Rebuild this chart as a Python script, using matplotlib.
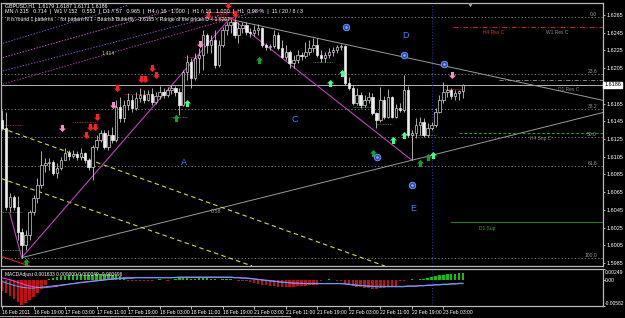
import numpy as np
import matplotlib
matplotlib.use("Agg")
import matplotlib.pyplot as plt
from matplotlib.path import Path
from matplotlib.patches import Rectangle

# GBPUSD H1, 118 bars, opens = previous close
first_open = 1.6146
closes = [1.6137, 1.6048, 1.6059, 1.6048, 1.6020, 1.6005, 1.6017, 1.6043, 1.6058, 1.6073,
          1.6096, 1.6098, 1.6099, 1.6087, 1.6092, 1.6101, 1.6109, 1.6106, 1.6108, 1.6105,
          1.6109, 1.6101, 1.6093, 1.6116, 1.6124, 1.6132, 1.6116, 1.6130, 1.6124, 1.6161,
          1.6149, 1.6163, 1.6169, 1.6160, 1.6171, 1.6175, 1.6169, 1.6176, 1.6167, 1.6174,
          1.6178, 1.6175, 1.6180, 1.6183, 1.6178, 1.6163, 1.6201, 1.6212, 1.6194, 1.6216,
          1.6220, 1.6242, 1.6231, 1.6237, 1.6209, 1.6231, 1.6248, 1.6254, 1.6257, 1.6242,
          1.6250, 1.6254, 1.6246, 1.6245, 1.6248, 1.6250, 1.6231, 1.6229, 1.6230, 1.6242,
          1.6228, 1.6218, 1.6223, 1.6211, 1.6214, 1.6220, 1.6219, 1.6223, 1.6228, 1.6231,
          1.6220, 1.6216, 1.6220, 1.6223, 1.6225, 1.6229, 1.6230, 1.6188, 1.6183, 1.6166,
          1.6175, 1.6163, 1.6169, 1.6172, 1.6154, 1.6146, 1.6169, 1.6150, 1.6172, 1.6150,
          1.6160, 1.6158, 1.6180, 1.6130, 1.6132, 1.6141, 1.6144, 1.6130, 1.6137, 1.6141,
          1.6155, 1.6169, 1.6178, 1.6180, 1.6174, 1.6177, 1.6179, 1.6186]
highs = [1.6158, 1.6155, 1.6064, 1.6062, 1.6061, 1.6024, 1.6022, 1.6045, 1.6062, 1.6081,
         1.6111, 1.6104, 1.6104, 1.6101, 1.6098, 1.6105, 1.6115, 1.6113, 1.6113, 1.6111,
         1.6115, 1.6110, 1.6104, 1.6118, 1.6130, 1.6135, 1.6135, 1.6135, 1.6139, 1.6169,
         1.6172, 1.6169, 1.6177, 1.6175, 1.6178, 1.6183, 1.6180, 1.6180, 1.6183, 1.6178,
         1.6185, 1.6183, 1.6184, 1.6186, 1.6185, 1.6183, 1.6203, 1.6220, 1.6216, 1.6222,
         1.6228, 1.6248, 1.6245, 1.6242, 1.6248, 1.6237, 1.6251, 1.6257, 1.6262, 1.6263,
         1.6257, 1.6257, 1.6257, 1.6250, 1.6254, 1.6255, 1.6251, 1.6233, 1.6232, 1.6248,
         1.6246, 1.6237, 1.6231, 1.6225, 1.6220, 1.6225, 1.6223, 1.6235, 1.6237, 1.6239,
         1.6239, 1.6225, 1.6223, 1.6228, 1.6229, 1.6231, 1.6232, 1.6231, 1.6195, 1.6186,
         1.6183, 1.6178, 1.6175, 1.6178, 1.6177, 1.6155, 1.6184, 1.6174, 1.6181, 1.6173,
         1.6164, 1.6166, 1.6197, 1.6185, 1.6135, 1.6149, 1.6150, 1.6149, 1.6143, 1.6144,
         1.6160, 1.6175, 1.6189, 1.6186, 1.6183, 1.6180, 1.6180, 1.6187]
lows = [1.6135, 1.6045, 1.6043, 1.6045, 1.6011, 1.5991, 1.6000, 1.6011, 1.6039, 1.6053,
        1.6070, 1.6088, 1.6090, 1.6084, 1.6081, 1.6090, 1.6101, 1.6101, 1.6104, 1.6101,
        1.6101, 1.6098, 1.6090, 1.6079, 1.6113, 1.6122, 1.6114, 1.6113, 1.6120, 1.6122,
        1.6144, 1.6144, 1.6158, 1.6155, 1.6158, 1.6167, 1.6166, 1.6168, 1.6163, 1.6164,
        1.6170, 1.6171, 1.6172, 1.6176, 1.6174, 1.6152, 1.6162, 1.6192, 1.6183, 1.6192,
        1.6199, 1.6203, 1.6222, 1.6222, 1.6205, 1.6206, 1.6229, 1.6242, 1.6245, 1.6239,
        1.6233, 1.6245, 1.6242, 1.6240, 1.6241, 1.6242, 1.6229, 1.6225, 1.6225, 1.6228,
        1.6225, 1.6216, 1.6214, 1.6205, 1.6205, 1.6211, 1.6214, 1.6216, 1.6220, 1.6223,
        1.6218, 1.6212, 1.6212, 1.6216, 1.6219, 1.6222, 1.6225, 1.6186, 1.6180, 1.6163,
        1.6163, 1.6160, 1.6161, 1.6166, 1.6152, 1.6137, 1.6144, 1.6148, 1.6149, 1.6149,
        1.6149, 1.6155, 1.6155, 1.6127, 1.6101, 1.6126, 1.6130, 1.6127, 1.6127, 1.6135,
        1.6139, 1.6154, 1.6166, 1.6172, 1.6170, 1.6169, 1.6169, 1.6171]

# MACD Adjust panel, units of 1e-4
macd_hist = [-25, -30, -36, -42, -50, -56, -52, -45, -38, -30, -20, -12,
             3, 5, 7, 9, 10, 11, 12, 13, 13, 12, 11, 12, 13, 14, 14, 13, 12, 11, 10, 8,
             -2, -3, -3, -2, -1, -2, -1,
             1, 2, 1, -1, 1, 3, 4, 5, 4, 3, 2, 4, 5, 4, 3, 2, 1, 2, 3, 2, 1, -1, -2, -3,
             -5, -7, -9, -10, -12, -13, -14, -15, -15, -16, -16, -15, -14, -14, -13, -12, -11, -10,
             -3, 1, 2, 1, -1, -2,
             -8, -11, -13, -15, -16, -17, -18, -19, -19, -18, -17, -16, -15, -13,
             -3, -1, 1, 2, 1, 2, 3, 4,
             8, 10, 11, 12, 13, 14, 14, 15, 15]
macd_signal = [5, 3, 1, -2, -5, -8, -11, -13, -15, -16, -17, -17,
               -16, -15, -14, -12, -11, -9, -8, -6, -5, -4, -3, -2, -1, 0, 1, 2, 3, 4, 5, 5,
               6, 6, 6, 6, 6, 6, 6,
               6, 6, 6, 6, 6, 6, 7, 7, 7, 7, 7, 7, 7, 7, 7, 7, 7, 7, 7, 7, 6, 6, 5, 5,
               4, 3, 2, 1, 0, -1, -2, -3, -4, -5, -6, -7, -7, -8, -8, -8, -8, -8,
               -8, -8, -8, -8, -8, -8,
               -8, -9, -10, -11, -12, -13, -13, -14, -14, -14, -14, -14, -14, -14,
               -14, -14, -13, -13, -13, -12, -12, -11,
               -11, -10, -10, -9, -9, -8, -8, -7, -7]
macd_main = [-3, -6, -9, -12, -14, -16, -17, -18, -18, -17, -16, -15,
             -14, -13, -12, -11, -10, -9, -8, -7, -6, -5, -4, -3, -2, -1, 0, 1, 2, 3, 3, 4,
             4, 4, 5, 5, 5, 5, 5,
             5, 5, 5, 5, 5, 6, 6, 6, 6, 6, 6, 6, 6, 6, 6, 6, 6, 6, 6, 6, 5, 5, 4, 4,
             3, 2, 1, 0, -1, -2, -3, -4, -5, -5, -6, -7, -7, -7, -8, -8, -8, -8,
             -8, -8, -8, -8, -8, -8,
             -9, -10, -11, -12, -12, -13, -14, -14, -15, -15, -15, -15, -15, -15,
             -15, -15, -14, -14, -14, -13, -13, -12,
             -12, -11, -11, -10, -10, -9, -9, -8, -8]
macd_max, macd_min = 0.00249, -0.00582

time_labels = ['16 Feb 2011', '16 Feb 19:00', '17 Feb 03:00', '17 Feb 11:00', '17 Feb 19:00',
               '18 Feb 03:00', '18 Feb 11:00', '18 Feb 19:00', '21 Feb 03:00', '21 Feb 11:00',
               '21 Feb 19:00', '22 Feb 03:00', '22 Feb 11:00', '22 Feb 19:00', '23 Feb 03:00']
price_ticks = [1.6265, 1.6245, 1.6225, 1.6205, 1.6165, 1.6145, 1.6125, 1.6105,
               1.6085, 1.6065, 1.6045, 1.6025, 1.6005, 1.5985]
bid = 1.6186

# fibo retracement, high -> low
fib_high, fib_low = 1.6263, 1.5991
fib_levels = [0.0, 23.6, 38.2, 50.0, 61.8, 100.0]

# signal arrows (bar, price)
red_down = [(21.3, 1.6130), (22.3, 1.6139), (23.6, 1.6139), (24.1, 1.6150), (29.2, 1.6183),
            (35.3, 1.6193), (36.3, 1.6193), (38.1, 1.6205), (39.1, 1.6197),
            (52.3, 1.6265), (57.4, 1.6276), (59.1, 1.6266)]
pink_down = [(15.2, 1.6137), (28.2, 1.6163), (50.3, 1.6232), (114.2, 1.6197)]
green_up = [(6.1, 1.5986), (44.2, 1.6149), (65.2, 1.6214), (94.2, 1.6109),
            (106.1, 1.6098), (108.1, 1.6105)]
mint_up = [(47.0, 1.6166), (83.2, 1.6188), (86.3, 1.6199), (99.2, 1.6124),
           (102.0, 1.6130), (109.4, 1.6107)]

wave_letters = [('A', 46.2, 1.6099), ('C', 74.4, 1.6147), ('D', 102.3, 1.6242), ('E', 104.3, 1.6047)]
wave_dots = [(87.3, 1.6251), (102.0, 1.6220), (112.2, 1.6210), (95.2, 1.6105), (104.1, 1.6073)]

pattern_bars = [2, 5, 58, 104]
pattern_prices = [1.6041, 1.5991, 1.6262, 1.6101]

red_marks = [((46, 50), 1.6218), ((31, 38), 1.6176), ((18, 24), 1.6144), ((112, 117), 1.6181),
             ((-0.2, 5), 1.6141)]
green_marks = [((43, 47), 1.6150), ((79, 84), 1.6212), ((89, 94), 1.6161), ((95, 99), 1.6142),
               ((104, 110), 1.6130), ((-0.2, 5), 1.6043), ((-0.2, 5), 1.6000)]

plt.rcParams['font.family'] = ['Liberation Sans', 'DejaVu Sans']
W, H = 625, 318
fig = plt.figure(figsize=(W / 100, H / 100), dpi=100, facecolor='black')
ax = fig.add_axes([1 / W, 1 - 266 / H, 602 / W, 263 / H], facecolor='black')
axm = fig.add_axes([1 / W, 1 - 306 / H, 602 / W, 37 / H], facecolor='black')

n = len(closes)
x = np.arange(n)
opens = [first_open] + closes[:-1]
o = np.array(opens)
c = np.array(closes)
hi = np.maximum(np.array(highs), np.maximum(o, c))
lo = np.minimum(np.array(lows), np.minimum(o, c))
xmin, xmax = -0.25, 152.5

# guide lines first
for lv in fib_levels:
    p = fib_high - (fib_high - fib_low) * lv / 100
    ax.axhline(p, color='#8c8c8c', lw=0.6, ls=(0, (1.5, 2.5)), zorder=1)
    ax.text(151, p, f'{lv:.1f}', color='#9a9a9a', fontsize=3.6, ha='right', va='bottom', zorder=6)
ax.axhline(bid, color='#b4b4b4', lw=0.7, zorder=1)


def ray(ax_, bars, prices, x_end, **kw):
    k = (prices[1] - prices[0]) / (bars[1] - bars[0])
    ax_.plot([bars[0], x_end], [prices[0], prices[0] + k * (x_end - bars[0])], **kw)


ray(ax, [59, 119], [1.6259, 1.6201], xmax, color='#9a9a9a', lw=0.7, zorder=2)
ray(ax, [5, 104], [1.5991, 1.6101], xmax, color='#9a9a9a', lw=0.7, zorder=2)
ray(ax, [-0.5, 8], [1.5993, 1.5980], 8, color='#e02020', lw=0.8, zorder=2)
ax.axline((0, 1.6137), (80, 1.6009), color='#d8d840', lw=0.8, ls=(0, (4, 3)), zorder=2)
ax.axline((0, 1.6080), (60, 1.5987), color='#d8d840', lw=0.8, ls=(0, (4, 3)), zorder=2)

fan = [([-0.5, 66], [1.6186, 1.6271], '#b040b0'),
       ([-0.5, 58], [1.6201, 1.6268], '#8050c8'),
       ([-0.5, 45], [1.6216, 1.6273], '#c060c0'),
       ([-0.5, 32], [1.6232, 1.6276], '#6060c0')]
for bb, pp, col in fan:
    ax.plot(bb, pp, color=col, lw=0.7, ls=(0, (1.5, 1.5)), zorder=2)
ax.text(26.9, 1.6222, '1.414', color='#a8e070', fontsize=3.8, ha='center', va='center', zorder=6)
ax.text(54.3, 1.6043, '0.58', color='#a0a0a0', fontsize=3.8, ha='center', va='center', zorder=6)

ax.plot(pattern_bars, pattern_prices, color='#c040c0', lw=0.8, zorder=3)

for (b0, b1), p in red_marks:
    ax.plot([b0, b1], [p, p], color='#d03030', lw=0.6, ls=(0, (1, 1)), zorder=2)
for (b0, b1), p in green_marks:
    ax.plot([b0, b1], [p, p], color='#40a040', lw=0.6, ls=(0, (1, 1)), zorder=2)

# support / resistance levels at the right
ax.plot([114.5, xmax], [1.6251, 1.6251], color='#d02020', lw=0.7, ls=(0, (5, 2, 1, 2)), zorder=2)
ax.text(122, 1.6248, 'H4 Res C', color='#e03030', fontsize=3.5, va='top', zorder=6)
ax.text(138, 1.6248, 'W1 Res C', color='#8a8a8a', fontsize=3.5, va='top', zorder=6)
ax.plot([126, xmax], [1.6192, 1.6192], color='#9a9a9a', lw=0.6, ls=(0, (5, 2, 1, 2)), zorder=2)
ax.text(141, 1.6181, 'D1 Res C', color='#8a8a8a', fontsize=3.5, va='center', zorder=6)
ax.plot([116, xmax], [1.6132, 1.6132], color='#30a030', lw=0.7, ls=(0, (3, 2)), zorder=2)
ax.text(134, 1.6128, 'H4 Sup C', color='#709070', fontsize=3.5, va='top', zorder=6)
ax.plot([114, xmax], [1.6031, 1.6031], color='#208020', lw=0.8, zorder=2)
ax.text(121, 1.6027, 'D1 Sup', color='#40a040', fontsize=3.5, va='top', zorder=6)

ax.axvline(109.1, color='#2838b0', lw=0.7, ls=(0, (1, 2)), zorder=1)
axm.axvline(109.1, color='#2838b0', lw=0.7, ls=(0, (1, 2)), zorder=1)

# candles
ax.vlines(x, lo, hi, color='#c8c8c8', lw=0.6, zorder=4)
bull = c >= o
body_h = np.maximum(np.abs(c - o), 0.00004)
ax.bar(x[bull], body_h[bull], bottom=np.minimum(o, c)[bull], width=0.62,
       color='black', edgecolor='#d0d0d0', linewidth=0.5, zorder=5)
ax.bar(x[~bull], body_h[~bull], bottom=np.minimum(o, c)[~bull], width=0.62,
       color='#ececec', edgecolor='#ececec', linewidth=0.5, zorder=5)

# arrows
dn = Path([(-0.22, 0.5), (0.22, 0.5), (0.22, 0.0), (0.5, 0.0), (0.0, -0.5), (-0.5, 0.0),
           (-0.22, 0.0), (-0.22, 0.5)], [1, 2, 2, 2, 2, 2, 2, 79])
up = Path([(vx, -vy) for vx, vy in dn.vertices], dn.codes)
for pts, mk, col in [(red_down, dn, '#ff2020'), (pink_down, dn, '#ff88cc'),
                     (green_up, up, '#10a030'), (mint_up, up, '#40ff90')]:
    pts = np.array(pts)
    ax.scatter(pts[:, 0], pts[:, 1], marker=mk, s=26, color=col, linewidths=0, zorder=7)

for t, b, p in wave_letters:
    ax.text(b, p, t, color='#4a80ff', fontsize=6.5, ha='center', va='center', zorder=7)
wd = np.array(wave_dots)
ax.scatter(wd[:, 0], wd[:, 1], s=22, color='#2848c8', edgecolors='#7aa0ff', linewidths=0.6, zorder=7)
ax.scatter(wd[:, 0], wd[:, 1], s=3, color='#9ab8ff', linewidths=0, zorder=8)

ax.add_patch(Rectangle((52.5, 1.6261), 6.5, 0.0007, fill=False, edgecolor='#e02020', lw=0.6, zorder=6))
ax.text(55.7, 1.6264, '1.6267', color='#e02020', fontsize=2.8, ha='center', va='center', zorder=6)
ax.scatter([118.8], [1.6277], marker='v', s=6, color='#a0a0a0', zorder=7)

ax.set_xlim(xmin, xmax)
ax.set_ylim(1.59816, 1.62785)
ax.set_xticks([])
ax.yaxis.tick_right()
ax.set_yticks(price_ticks)
ax.set_yticklabels([f'{v:.4f}' for v in price_ticks])
ax.tick_params(axis='y', colors='white', labelsize=4.0, length=1.5, width=0.5, pad=0.8)
ax.text(1.002, bid, f'{bid:.4f}', transform=ax.get_yaxis_transform(), color='black',
        fontsize=4.0, va='center', ha='left', zorder=9,
        bbox=dict(boxstyle='square,pad=0.15', facecolor='white', edgecolor='white'))
for s in ax.spines.values():
    s.set_color('#b8b8b8')
    s.set_linewidth(0.9)

# MACD panel
hist = np.array(macd_hist) * 1e-4
axm.bar(x, hist, width=0.62, color=np.where(hist >= 0, '#10c010', '#c01010'), zorder=2)
axm.plot(x, np.array(macd_signal) * 1e-4, color='#ff40ff', lw=0.7, zorder=3)
axm.plot(x, np.array(macd_main) * 1e-4, color='#40b8ff', lw=0.7, zorder=3)
axm.set_xlim(xmin, xmax)
axm.set_ylim(macd_min, macd_max)
axm.yaxis.tick_right()
axm.set_yticks([macd_max, 0.0, macd_min])
axm.set_yticklabels([])
axm.tick_params(axis='y', colors='white', length=1.5, width=0.5)
ytr = axm.get_yaxis_transform()
axm.text(1.003, 0.90, f'{macd_max:.5f}', transform=axm.transAxes, color='white', fontsize=3.6, va='center')
axm.text(1.003, 0.0, '0.00', transform=ytr, color='white', fontsize=3.6, va='center')
axm.text(1.003, 0.08, f'{macd_min:.5f}', transform=axm.transAxes, color='white', fontsize=3.5, va='center')
axm.set_xticks(np.arange(0, n, 8))
axm.set_xticklabels(time_labels, ha='left')
axm.tick_params(axis='x', colors='white', labelsize=3.6, length=2, width=0.5, pad=1.2)
for s in axm.spines.values():
    s.set_color('#b8b8b8')
    s.set_linewidth(0.9)
axm.text(0.006, 0.93, 'MACDAdjust 0.001633 0.000000 0.000049 -0.000496', transform=axm.transAxes,
         color='white', fontsize=3.5, va='top', zorder=6)

# header
fig.text(5 / W, 1 - 6 / H, 'GBPUSD,H1  1.6179 1.6187 1.6171 1.6186', color='white', fontsize=3.8, va='center')
fig.text(5 / W, 1 - 12 / H,
         'MN /\\ 315   0.714  |  W1 \\/ 152   0.553  |  D1 /\\ 57   0.965  |  H4 /\\ 16   1.000  |'
         '  H1 /\\ 16   1.000  |  H1  0.98 %  |  11 / 20 / 8 / 3',
         color='white', fontsize=3.9, va='center')
fig.text(7 / W, 1 - 19 / H,
         'It is found 1 patterns . - for pattern N 1 - Bearish Butterfly - 1.6165 < Range of the prices D < 1.6267',
         color='white', fontsize=3.6, va='center')
fig.add_artist(plt.Line2D([0, 290 / W], [1 - 316 / H, 1 - 316 / H], color='#a0a0a0', lw=0.8))

fig.savefig('out.png', dpi=100, facecolor='black')
